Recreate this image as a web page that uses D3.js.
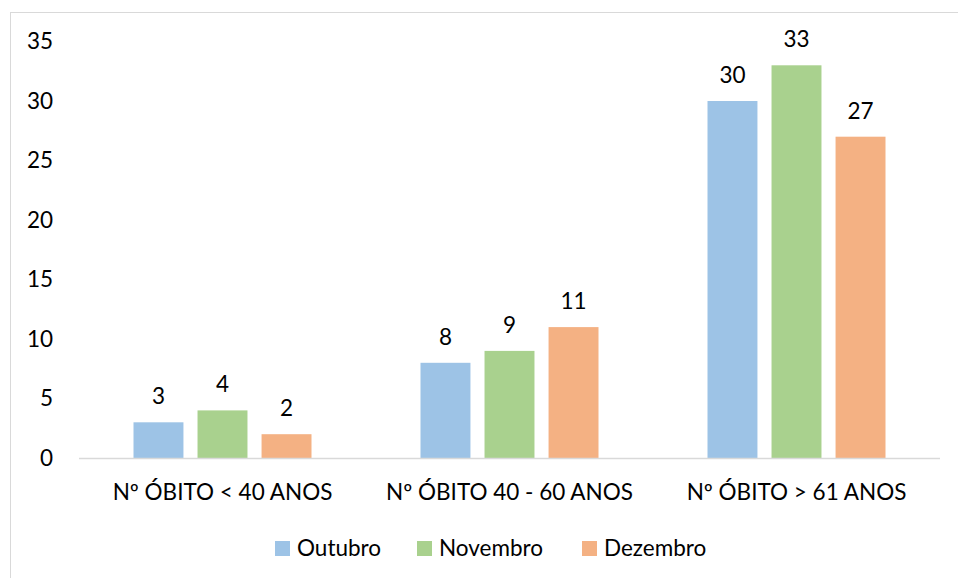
<!DOCTYPE html>
<html>
<head>
<meta charset="utf-8">
<script src="https://cdn.jsdelivr.net/npm/d3@7"></script>
<style>
  body { margin: 0; background: #fff; }
  svg { font-family: Lato, "Open Sans", sans-serif; }
</style>
</head>
<body>
<div id="chart"></div>
<script>
const categories = ["Nº ÓBITO < 40 ANOS", "Nº ÓBITO 40 - 60 ANOS", "Nº ÓBITO > 61 ANOS"];
const seriesNames = ["Outubro", "Novembro", "Dezembro"];
const outubro = [3, 8, 30];
const novembro = [4, 9, 33];
const dezembro = [2, 11, 27];
const colors = ["#9DC3E6", "#A9D18E", "#F4B183"];
const yTicks = [0, 5, 10, 15, 20, 25, 30, 35];

const width = 958, height = 578;
const margin = { top: 41.5, right: 18, bottom: 120, left: 79 };
const fontSize = "22.5px";

const seriesValues = [outubro, novembro, dezembro];
const data = categories.map((c, i) => ({
    category: c,
    values: seriesNames.map((s, j) => ({ series: s, value: seriesValues[j][i] }))
}));

const svg = d3.select("#chart")
    .append("svg")
    .attr("width", width)
    .attr("height", height);

// chart border
svg.append("rect")
    .attr("x", 10.5)
    .attr("y", 12.5)
    .attr("width", width + 10)
    .attr("height", height + 10)
    .attr("fill", "none")
    .attr("stroke", "#D9D9D9");

const x0 = d3.scaleBand()
    .domain(categories)
    .range([margin.left, width - margin.right]);

const x1 = d3.scaleBand()
    .domain(seriesNames)
    .range([0, 178])
    .paddingInner(0.22);

const y = d3.scaleLinear()
    .domain([0, 35])
    .range([458, margin.top]);

// Y tick labels
svg.append("g")
    .selectAll("text")
    .data(yTicks)
    .enter()
    .append("text")
    .attr("x", 53)
    .attr("y", d => y(d))
    .attr("dy", "0.35em")
    .attr("text-anchor", "end")
    .style("font-size", fontSize)
    .attr("fill", "#000")
    .text(d => d);

// bars
const groups = svg.selectAll("g.group")
    .data(data)
    .enter()
    .append("g")
    .attr("class", "group")
    .attr("transform", d => `translate(${x0(d.category) + x0.bandwidth() / 2 - 89},0)`);

groups.selectAll("rect")
    .data(d => d.values)
    .enter()
    .append("rect")
    .attr("x", d => x1(d.series))
    .attr("y", d => y(d.value))
    .attr("width", x1.bandwidth())
    .attr("height", d => y(0) - y(d.value))
    .attr("fill", (d, i) => colors[i]);

groups.selectAll("text")
    .data(d => d.values)
    .enter()
    .append("text")
    .attr("x", d => x1(d.series) + x1.bandwidth() / 2)
    .attr("y", d => y(d.value) - 18)
    .attr("text-anchor", "middle")
    .style("font-size", fontSize)
    .attr("fill", "#000")
    .text(d => d.value);

// x axis line
svg.append("line")
    .attr("x1", margin.left)
    .attr("x2", width - margin.right)
    .attr("y1", y(0) + 0.5)
    .attr("y2", y(0) + 0.5)
    .attr("stroke", "#D9D9D9")
    .attr("stroke-width", 1.5);

// category labels
svg.append("g")
    .selectAll("text")
    .data(categories)
    .enter()
    .append("text")
    .attr("x", d => x0(d) + x0.bandwidth() / 2)
    .attr("y", 500)
    .attr("text-anchor", "middle")
    .style("font-size", fontSize)
    .attr("fill", "#000")
    .text(d => d);

// legend
const legendX = [275, 417, 582];
const legend = svg.append("g")
    .selectAll("g")
    .data(seriesNames)
    .enter()
    .append("g")
    .attr("transform", (d, i) => `translate(${legendX[i]},541)`);

legend.append("rect")
    .attr("width", 15)
    .attr("height", 15)
    .attr("fill", (d, i) => colors[i]);

legend.append("text")
    .attr("x", 22)
    .attr("y", 15)
    .style("font-size", fontSize)
    .attr("fill", "#000")
    .text(d => d);
</script>
</body>
</html>
